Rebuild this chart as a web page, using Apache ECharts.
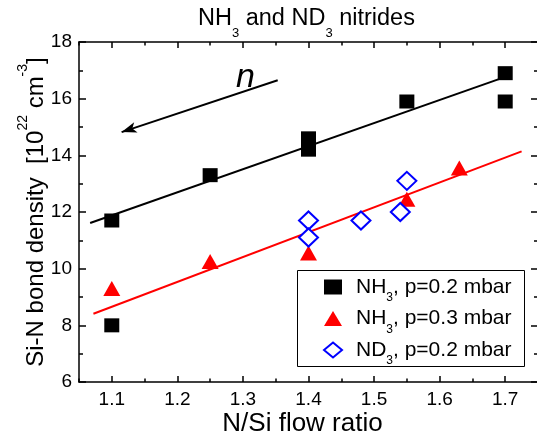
<!DOCTYPE html>
<html>
<head>
<meta charset="utf-8">
<script src="https://cdn.jsdelivr.net/npm/echarts@6/dist/echarts.min.js"></script>
<style>
  html, body { margin: 0; padding: 0; background: #fff; }
  #chart { width: 537px; height: 441px; }
</style>
</head>
<body>
<div id="chart"></div>
<script>
// data
const nh3LowX = [1.1, 1.1, 1.25, 1.4, 1.4, 1.55, 1.7, 1.7]
const nh3LowY = [11.7, 8.0, 13.3, 14.6, 14.2, 15.9, 16.9, 15.9]
const nh3HighX = [1.1, 1.25, 1.4, 1.55, 1.63]
const nh3HighY = [9.3, 10.25, 10.55, 12.45, 13.55]
const nd3X = [1.4, 1.4, 1.48, 1.54, 1.55]
const nd3Y = [11.7, 11.1, 11.7, 12.0, 13.1]
// linear fits (end points)
const fitBlackX = [1.067, 1.698]
const fitBlackY = [11.61, 16.75]
const fitRedX = [1.072, 1.725]
const fitRedY = [8.41, 14.14]
// arrow "n"
const arrowFrom = [1.353, 16.65]
const arrowTo = [1.115, 14.82]
const nLabelAt = [1.304, 16.74]
// ticks
const xMajor = [1.1, 1.2, 1.3, 1.4, 1.5, 1.6, 1.7]
const xMinor = [1.05, 1.15, 1.25, 1.35, 1.45, 1.55, 1.65, 1.75]

const pair = (xs, ys) => xs.map((x, i) => [x, ys[i]])
const FONT = 'Liberation Sans, Arial, sans-serif'

const chart = echarts.init(document.getElementById('chart'))

const baseX = {
  type: 'value',
  min: 1.05,
  max: 1.75,
  splitLine: { show: false },
}
const baseY = {
  type: 'value',
  min: 6,
  max: 18,
  interval: 2,
  splitLine: { show: false },
}
const lineStyle = { color: '#000', width: 1.5 }

const option = {
  animation: false,
  backgroundColor: '#fff',
  textStyle: { fontFamily: FONT },
  title: {
    text: '{a|NH}{b|3}{a| and ND}{b|3}{a| nitrides}',
    left: 198,
    top: 5,
    padding: 0,
    textStyle: {
      fontWeight: 'normal',
      rich: {
        a: { fontSize: 23.5, fontWeight: 'normal', fontFamily: FONT, color: '#000', lineHeight: 28 },
        b: { fontSize: 13, fontWeight: 'normal', fontFamily: FONT, color: '#000', lineHeight: 28, padding: [29, 0, 0, 0] },
      },
    },
  },
  grid: { left: 79, right: -1, top: 42, bottom: 59, outerBoundsMode: 'none', containLabel: false },
  xAxis: [
    {
      ...baseX,
      position: 'bottom',
      axisLine: { lineStyle },
      axisTick: { inside: true, length: 6, customValues: xMajor, lineStyle },
      axisLabel: {
        customValues: xMajor,
        margin: 8,
        color: '#000',
        fontSize: 19,
        fontFamily: FONT,
        formatter: (v) => v.toFixed(1),
      },
      name: 'N/Si flow ratio',
      nameLocation: 'middle',
      nameGap: 29,
      nameMoveOverlap: false,
      nameTextStyle: { color: '#000', fontSize: 26, fontFamily: FONT, padding: [0, 12, 0, 0] },
    },
    {
      ...baseX,
      position: 'bottom',
      axisLine: { show: false },
      axisTick: { inside: true, length: 3.5, customValues: xMinor, lineStyle },
      axisLabel: { show: false },
    },
    {
      ...baseX,
      position: 'top',
      axisLine: { lineStyle },
      axisTick: { inside: true, length: 6, customValues: xMajor, lineStyle },
      axisLabel: { show: false },
    },
    {
      ...baseX,
      position: 'top',
      axisLine: { show: false },
      axisTick: { inside: true, length: 3.5, customValues: xMinor, lineStyle },
      axisLabel: { show: false },
    },
  ],
  yAxis: [
    {
      ...baseY,
      position: 'left',
      axisLine: { lineStyle },
      axisTick: { inside: true, length: 7, lineStyle },
      minorTick: { show: true, splitNumber: 2, length: 4, lineStyle },
      axisLabel: { margin: 7, color: '#000', fontSize: 19, fontFamily: FONT },
      name: '{a|Si-N bond density  [10}{p|22}{a| cm}{p|-3}{a|]}',
      nameLocation: 'middle',
      nameGap: 28,
      nameMoveOverlap: false,
      nameRotate: 90,
      nameTextStyle: {
        rich: {
          a: { fontSize: 24, fontFamily: FONT, color: '#000', lineHeight: 30 },
          p: { fontSize: 14, fontFamily: FONT, color: '#000', lineHeight: 30, padding: [0, 0, 26, 0] },
        },
      },
    },
    {
      ...baseY,
      position: 'right',
      axisLine: { lineStyle },
      axisTick: { inside: true, length: 7, lineStyle },
      minorTick: { show: true, splitNumber: 2, length: 4, lineStyle },
      axisLabel: { show: false },
    },
  ],
  legend: {
    orient: 'vertical',
    left: 323,
    top: 270,
    padding: 0,
    itemGap: -2.5,
    itemWidth: 18,
    itemHeight: 15,
    z: 10,
    data: ['NH3, p=0.2 mbar', 'NH3, p=0.3 mbar', 'ND3, p=0.2 mbar'],
    formatter: (name) => name.replace(/^(N[HD])3(.*)$/, '{f|$1}{b|3}{a|$2}'),
    textStyle: {
      rich: {
        f: { fontSize: 21, fontFamily: FONT, color: '#000', lineHeight: 20, padding: [0, 0, 0, 9] },
        a: { fontSize: 21, fontFamily: FONT, color: '#000', lineHeight: 20 },
        b: { fontSize: 12, fontFamily: FONT, color: '#000', lineHeight: 20, padding: [22, 0, 0, 0] },
      },
    },
  },
  graphic: [
    {
      type: 'rect',
      z: 5,
      shape: { x: 297.5, y: 270.5, width: 227, height: 96 },
      style: { fill: '#fff', stroke: '#000', lineWidth: 1 },
    },
  ],
  series: [
    {
      name: 'fitBlack',
      type: 'line',
      data: pair(fitBlackX, fitBlackY),
      showSymbol: false,
      lineStyle: { color: '#000', width: 2 },
      z: 1,
      markLine: {
        silent: true,
        symbol: ['none', 'arrow'],
        symbolSize: [8, 15],
        lineStyle: { color: '#000', width: 2, type: 'solid' },
        label: { show: false },
        data: [[{ coord: arrowFrom }, { coord: arrowTo }]],
      },
      markPoint: {
        silent: true,
        symbolSize: 0,
        data: [{ coord: nLabelAt }],
        label: {
          show: true,
          position: 'inside',
          formatter: 'n',
          color: '#000',
          fontSize: 34,
          fontStyle: 'italic',
          fontFamily: FONT,
        },
      },
    },
    {
      name: 'fitRed',
      type: 'line',
      data: pair(fitRedX, fitRedY),
      showSymbol: false,
      lineStyle: { color: '#ff0000', width: 2 },
      z: 1,
    },
    {
      name: 'NH3, p=0.2 mbar',
      type: 'scatter',
      data: pair(nh3LowX, nh3LowY),
      symbol: 'rect',
      symbolSize: [15, 14],
      itemStyle: { color: '#000', opacity: 1 },
    },
    {
      name: 'NH3, p=0.3 mbar',
      type: 'scatter',
      data: pair(nh3HighX, nh3HighY),
      symbol: 'triangle',
      symbolSize: [17, 15],
      itemStyle: { color: '#ff0000', opacity: 1 },
    },
    {
      name: 'ND3, p=0.2 mbar',
      type: 'scatter',
      data: pair(nd3X, nd3Y),
      symbol: 'diamond',
      symbolSize: [19, 18],
      itemStyle: { color: '#fff', borderColor: '#0000ff', borderWidth: 2, opacity: 1 },
    },
  ],
}

chart.setOption(option)
</script>
</body>
</html>
